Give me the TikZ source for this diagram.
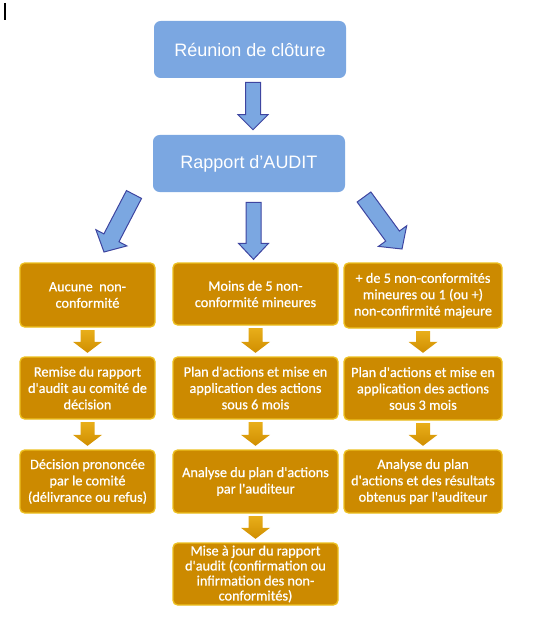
\documentclass[tikz,border=0pt]{standalone}
\usepackage{fontspec}
\setmainfont{Liberation Sans}
\newfontfamily\orfont[FakeBold=0.7]{Carlito}
\usetikzlibrary{calc}
\definecolor{boxblue}{HTML}{7BA7E1}
\definecolor{arrowline}{HTML}{3E45A0}
\definecolor{gold}{HTML}{CC8A00}
\definecolor{goldedge}{HTML}{EDC020}
\definecolor{goldtop}{HTML}{E8AE1A}
\definecolor{goldbot}{HTML}{D08E00}
\newcommand\q{\textquotesingle}
\newcommand\blockarrow[6][]{%
  \coordinate (ba-h) at ($(#3)!#6!(#2)$);
  \path[#1] ($(#2)!#4!90:(#3)$) -- ($(ba-h)!#4!90:(#3)$) -- ($(ba-h)!#5!90:(#3)$)
    -- (#3) -- ($(ba-h)!#5!-90:(#3)$) -- ($(ba-h)!#4!-90:(#3)$) -- ($(#2)!#4!-90:(#3)$) -- cycle;}
\tikzset{
  bluebox/.style={rectangle, rounded corners=5pt, fill=boxblue, text=white,
    font=\fontsize{13.5pt}{16pt}\selectfont, minimum width=144pt, minimum height=42.75pt, inner sep=0pt},
  goldbox/.style={rectangle, rounded corners=3.5pt, fill=gold, draw=goldedge, line width=1pt,
    text=white, align=center, font=\orfont\fontsize{10.7pt}{12.3pt}\selectfont, inner sep=0pt},
  bluearrow/.style={fill=boxblue, draw=arrowline, line width=0.75pt, line join=miter},
  goldarrow/.style={top color=goldtop, bottom color=goldbot, draw=none},
}
\begin{document}
\begin{tikzpicture}[x=0.75pt,y=-0.75pt]
\useasboundingbox (0,0) rectangle (545,624);
\draw[line width=0.8pt] (5,3) -- (5,20);
% blue boxes
\node[bluebox] (b1) at (250,49.5) {Réunion de clôture};
\node[bluebox] (b2) at (249,163.5) {Rapport d’AUDIT};
% gold boxes
\node[goldbox, minimum width=101.25pt, minimum height=48pt] (L1) at (87.5,295) {Aucune\ \ non-\\conformité};
\node[goldbox, minimum width=123.75pt, minimum height=46.5pt] (M1) at (255.5,294) {Moins de 5 non-\\conformité mineures};
\node[goldbox, minimum width=118.5pt, minimum height=48.75pt] (R1) at (423,295.5) {+ de 5 non-conformités\\mineures ou 1 (ou +)\\non-confirmité majeure};
\node[goldbox, minimum width=101.25pt, minimum height=46.5pt] (L2) at (87.5,388) {Remise du rapport\\d\q audit au comité de\\décision};
\node[goldbox, minimum width=123.75pt, minimum height=46.5pt] (M2) at (255.5,388) {Plan d\q actions et mise en\\application des actions\\sous 6 mois};
\node[goldbox, minimum width=118.5pt, minimum height=47.25pt] (R2) at (423,388.5) {Plan d\q actions et mise en\\application des actions\\sous 3 mois};
\node[goldbox, minimum width=101.25pt, minimum height=47.25pt] (L3) at (87.5,481.5) {Décision prononcée\\par le comité\\(délivrance ou refus)};
\node[goldbox, minimum width=123.75pt, minimum height=47.25pt] (M3) at (255.5,481.5) {Analyse du plan d\q actions\\par l\q auditeur};
\node[goldbox, minimum width=118.5pt, minimum height=47.25pt] (R3) at (423,481.5) {Analyse du plan\\d\q actions et des résultats\\obtenus par l\q auditeur};
\node[goldbox, minimum width=123.75pt, minimum height=46.5pt, font=\orfont\fontsize{10.7pt}{11.25pt}\selectfont] (M4) at (255.5,574) {Mise à jour du rapport\\d\q audit (confirmation ou\\infirmation des non-\\conformités)};
% blue arrows
\coordinate (a1t) at ($(b1.south)+(3,4)$);
\coordinate (a1h) at ($(b2.north)+(4,-5)$);
\blockarrow[bluearrow]{a1t}{a1h}{5.625pt}{11.25pt}{11.25pt}
\coordinate (a2t) at ($(b2.south)+(4.5,10)$);
\coordinate (a2h) at ($(M1.north)+(-2,-3)$);
\blockarrow[bluearrow]{a2t}{a2h}{5.625pt}{11.25pt}{12pt}
\coordinate (a3t) at (134,194.5);
\coordinate (a3h) at (104,252);
\blockarrow[bluearrow]{a3t}{a3h}{6.375pt}{13.125pt}{12pt}
\coordinate (a4t) at (364,197);
\coordinate (a4h) at (402,249);
\blockarrow[bluearrow]{a4t}{a4h}{6.375pt}{13.125pt}{12pt}
% gold arrows
\foreach \a/\b in {L1/L2,M1/M2,R1/R2,L2/L3,M2/M3,R2/R3,M3/M4}{
  \coordinate (gt) at ($(\a.south)+(0,2.5)$);
  \coordinate (gh) at ($(\b.north)+(0,-3.5)$);
  \blockarrow[goldarrow]{gt}{gh}{5.25pt}{10.875pt}{8.25pt}
}
\end{tikzpicture}
\end{document}
